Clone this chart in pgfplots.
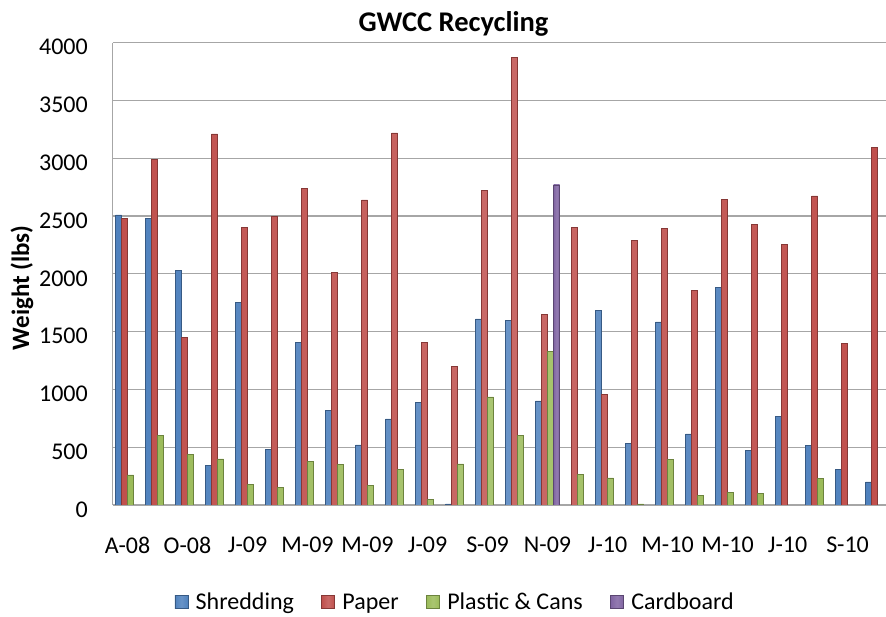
\documentclass[border=0pt]{standalone}
\usepackage{fontspec}
\setmainfont{Carlito}
\usepackage{pgfplots}
\pgfplotsset{compat=1.18}
\definecolor{cB}{HTML}{4F81BD}
\definecolor{cR}{HTML}{C0504D}
\definecolor{cG}{HTML}{9BBB59}
\definecolor{cP}{HTML}{8064A2}
\definecolor{gridc}{HTML}{A6A6A6}
\begin{document}
\begin{tikzpicture}
\useasboundingbox (0,0) rectangle (886pt,617pt);
\node[anchor=base,font=\fontsize{28.5}{32}\selectfont\bfseries] at (453.5pt,585pt) {GWCC Recycling};
\begin{axis}[
  at={(112.5pt,112pt)}, anchor=south west,
  scale only axis, width=773.5pt, height=462.3pt,
  ybar=0pt, bar width=6pt,
  xmin=-0.5, xmax=25.28, ymin=0, ymax=4000,
  axis lines*=left,
  axis line style={gridc, line width=1pt},
  ytick={0,500,...,4000},
  xtick={0,2,...,24},
  xticklabels={A-08,O-08,J-09,M-09,M-09,J-09,S-09,N-09,J-10,M-10,M-10,J-10,S-10},
  major tick length=0pt,
  ymajorgrids, grid style={gridc, line width=1.2pt},
  /pgf/number format/assume math mode=true,
  /pgf/number format/1000 sep={},
  ticklabel style={font=\fontsize{24}{28}\selectfont},
  yticklabel style={anchor=east, inner sep=0pt, xshift=-24.5pt, yshift=-4.5pt},
  xticklabel style={anchor=north, inner sep=0pt, yshift=-32pt},
  ylabel={Weight (lbs)},
  ylabel style={font=\fontsize{25}{29}\selectfont\bfseries, at={(axis description cs:-0.117,0.47)}, anchor=center},
  every axis plot/.append style={legend image code/.code={\draw[#1] (0pt,-6.5pt) rectangle (13pt,6.5pt); \path (17pt,0pt);}},
  legend columns=4,
  legend style={draw=none, fill=none, at={(axis description cs:0.444,-0.21)}, anchor=center,
    font=\fontsize{24}{28}\selectfont,
    nodes={inner xsep=3.5pt, inner ysep=0pt},
    /tikz/every even column/.append style={column sep=24pt}},
]
\addplot[draw=cB!70!black, line width=0.5pt, left color=cB, right color=cB, middle color=cB!85!white] coordinates {
(0,2510) (1,2480) (2,2030) (3,340) (4,1750) (5,480) (6,1410) (7,820) (8,520) (9,745)
(10,885) (11,10) (12,1610) (13,1595) (14,900) (16,1685) (17,530) (18,1585) (19,615)
(20,1880) (21,470) (22,770) (23,515) (24,305) (25,200)};
\addplot[draw=cR!70!black, line width=0.5pt, left color=cR, right color=cR, middle color=cR!85!white] coordinates {
(0,2480) (1,2990) (2,1450) (3,3210) (4,2400) (5,2500) (6,2740) (7,2010) (8,2640) (9,3220)
(10,1410) (11,1200) (12,2720) (13,3870) (14,1650) (15,2405) (16,960) (17,2290) (18,2395)
(19,1860) (20,2645) (21,2430) (22,2255) (23,2675) (24,1400) (25,3095)};
\addplot[draw=cG!70!black, line width=0.5pt, left color=cG, right color=cG, middle color=cG!85!white] coordinates {
(0,260) (1,600) (2,440) (3,400) (4,180) (5,150) (6,375) (7,350) (8,170) (9,310)
(10,50) (11,355) (12,935) (13,600) (14,1330) (15,265) (16,235) (17,10) (18,395)
(19,80) (20,110) (21,100) (23,230)};
\addplot[draw=cP!70!black, line width=0.5pt, left color=cP, right color=cP, middle color=cP!85!white] coordinates {
(14,2770)};
\legend{Shredding, Paper, Plastic \& Cans, Cardboard}
\end{axis}
\end{tikzpicture}
\end{document}
